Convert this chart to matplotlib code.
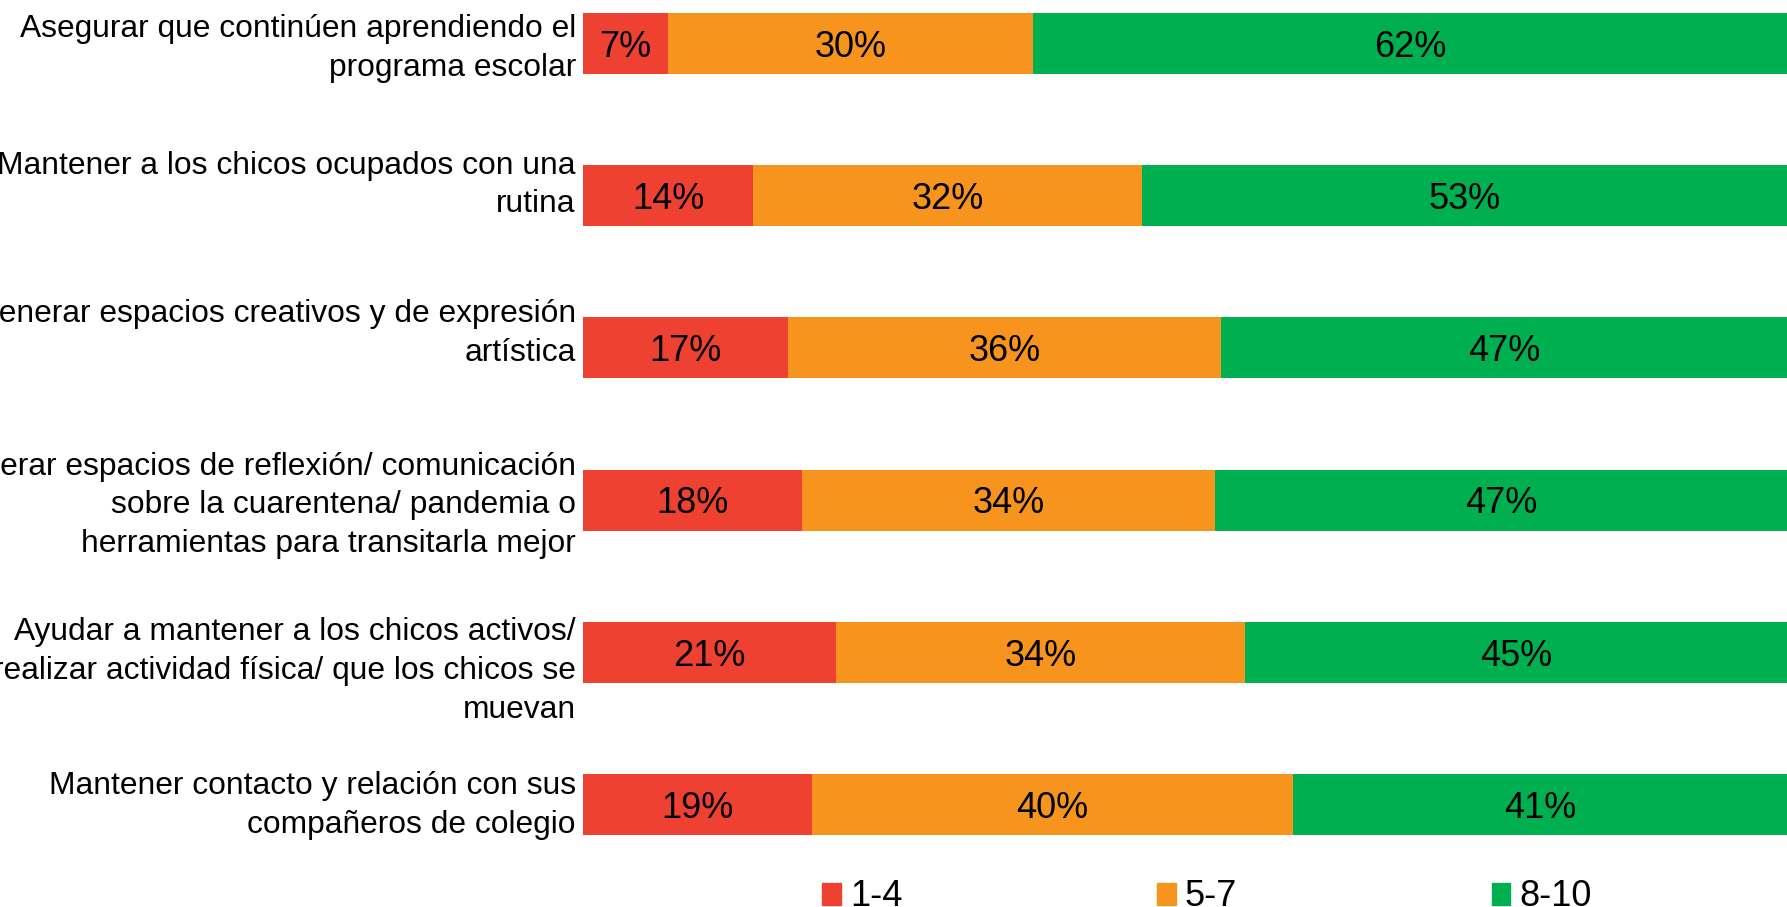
import numpy as np
import matplotlib
matplotlib.use('Agg')
import matplotlib.pyplot as plt
from matplotlib.patches import Patch

plt.rcParams['font.family'] = ['Liberation Sans', 'DejaVu Sans']

# datos
categorias = ['Asegurar que continúen aprendiendo el\nprograma escolar',
              'Mantener a los chicos ocupados con una\nrutina',
              'Generar espacios creativos y de expresión\nartística',
              'Generar espacios de reflexión/ comunicación\nsobre la cuarentena/ pandemia o\nherramientas para transitarla mejor',
              'Ayudar a mantener a los chicos activos/\nrealizar actividad física/ que los chicos se\nmuevan',
              'Mantener contacto y relación con sus\ncompañeros de colegio']
bajo = [7, 14, 17, 18, 21, 19]      # 1-4
medio = [30, 32, 36, 34, 34, 40]    # 5-7
alto = [62, 53, 47, 47, 45, 41]     # 8-10
series = ['1-4', '5-7', '8-10']
colores = ['#EE4131', '#F7941E', '#00B050']

datos = np.array([bajo, medio, alto], dtype=float)
pct = datos / datos.sum(axis=0) * 100  # barra apilada al 100%

fig = plt.figure(figsize=(17.87, 9.07), dpi=100)
ax = fig.add_axes([583/1787, 47/907, 1 - 583/1787, 860/907])

y = np.arange(len(categorias))
izq = np.zeros(len(categorias))
for k in range(3):
    ax.barh(y, pct[k], left=izq, height=0.4, color=colores[k], label=series[k])
    for i in range(len(categorias)):
        ax.text(izq[i] + pct[k][i] / 2, y[i] + 0.025, '%d%%' % datos[k][i],
                ha='center', va='center', fontsize=26, color='black')
    izq = izq + pct[k]

# etiquetas de categorias (no quedan centradas igual en el original)
desplaz = [0.035, -0.07, -0.093, 0.035, 0.124, 0.006]
for i, cat in enumerate(categorias):
    ax.text(-0.6, y[i] + desplaz[i], cat, ha='right', va='center',
            multialignment='right', fontsize=22.9, linespacing=1.38, clip_on=False)

ax.set_xlim(0, 100)
ax.set_ylim(5 + (860 - 43.5 - 5*152.2) / 152.2, -43.5 / 152.2)
ax.axis('off')

handles = [Patch(color=c) for c in colores]
fig.legend(handles, series, loc='lower center', bbox_to_anchor=(1207/1787, -0.044),
           ncol=3, frameon=False, fontsize=26, handlelength=0.52, handleheight=0.55,
           handletextpad=0.25, columnspacing=7.05)

fig.savefig('out.png', dpi=100)
